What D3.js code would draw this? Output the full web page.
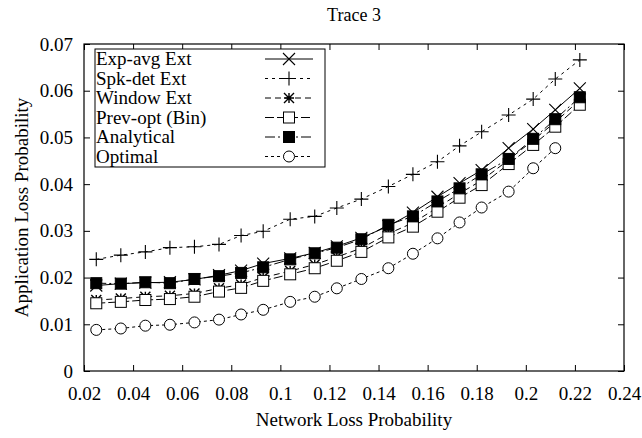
<!DOCTYPE html>
<html><head><meta charset="utf-8">
<script src="https://cdn.jsdelivr.net/npm/d3@7"></script>
<style>body{margin:0;background:#fff}svg{display:block}</style>
</head><body>
<script>
const xs = [0.025,0.035,0.045,0.055,0.065,0.075,0.084,0.093,0.104,0.114,0.123,0.133,0.144,0.154,0.164,0.173,0.182,0.193,0.203,0.212,0.222];
const expAvg = [0.0183,0.0187,0.0189,0.0190,0.0196,0.0205,0.0215,0.0230,0.0241,0.0253,0.0267,0.0285,0.0310,0.0339,0.0373,0.0402,0.0430,0.0477,0.0518,0.0559,0.0605];
const spkDet = [0.0239,0.0248,0.0255,0.0264,0.0266,0.0271,0.0290,0.0299,0.0325,0.0331,0.0349,0.0368,0.0395,0.0421,0.0448,0.0482,0.0512,0.0548,0.0582,0.0625,0.0666];
const windowExt = [0.0152,0.0155,0.0159,0.0161,0.0166,0.0177,0.0185,0.0200,0.0214,0.0228,0.0244,0.0263,0.0294,0.0317,0.0350,0.0380,0.0408,0.0452,0.0494,0.0533,0.0580];
const prevOpt = [0.0145,0.0148,0.0152,0.0154,0.0159,0.0170,0.0178,0.0193,0.0207,0.0220,0.0236,0.0255,0.0286,0.0309,0.0341,0.0371,0.0398,0.0443,0.0484,0.0523,0.0570];
const analytical = [0.0188,0.0187,0.0190,0.0188,0.0197,0.0203,0.0210,0.0222,0.0239,0.0252,0.0264,0.0282,0.0313,0.0331,0.0363,0.0391,0.0421,0.0454,0.0497,0.0539,0.0586];
const optimal = [0.0088,0.0091,0.0097,0.0099,0.0104,0.0110,0.0121,0.0131,0.0148,0.0159,0.0177,0.0197,0.0220,0.0251,0.0284,0.0318,0.0350,0.0384,0.0434,0.0477];
const xTicks = [0.02,0.04,0.06,0.08,0.1,0.12,0.14,0.16,0.18,0.2,0.22,0.24];
const yTicks = [0,0.01,0.02,0.03,0.04,0.05,0.06,0.07];
const seriesNames = ["Exp-avg Ext","Spk-det Ext","Window Ext","Prev-opt (Bin)","Analytical","Optimal"];
const seriesData = [expAvg, spkDet, windowExt, prevOpt, analytical, optimal];
const seriesMarkers = ["cross","plus","star","squareOpen","squareFilled","circle"];
const seriesDash = [null,"3,4","6,4","9,3","10,3,2,3","3,3"];

const W=642,H=438, L=84,R=624,T=44,B=371;
const FS=19;
const svg=d3.select("body").append("svg").attr("width",W).attr("height",H);
const x=d3.scaleLinear().domain([0.02,0.24]).range([L,R]);
const y=d3.scaleLinear().domain([0,0.07]).range([B,T]);
const font="'Liberation Serif','Times New Roman',serif";

svg.append("rect").attr("x",L).attr("y",T).attr("width",R-L).attr("height",B-T)
  .attr("fill","none").attr("stroke","#000").attr("stroke-width",1.2);

const fmt=d=>d===0?"0":String(+d.toFixed(2));
const ax=svg.append("g").attr("transform",`translate(0,${B})`)
  .call(d3.axisBottom(x).tickValues(xTicks).tickFormat(fmt).tickSize(-6).tickPadding(16));
const axTop=svg.append("g").attr("transform",`translate(0,${T})`)
  .call(d3.axisTop(x).tickValues(xTicks).tickFormat("").tickSize(-6));
const ay=svg.append("g").attr("transform",`translate(${L},0)`)
  .call(d3.axisLeft(y).tickValues(yTicks).tickFormat(fmt).tickSize(-6).tickPadding(11));
const ayR=svg.append("g").attr("transform",`translate(${R},0)`)
  .call(d3.axisRight(y).tickValues(yTicks).tickFormat("").tickSize(-6));
[ax,axTop,ay,ayR].forEach(g=>{
  g.select(".domain").remove();
  g.selectAll("line").attr("stroke","#000");
  g.selectAll("text").attr("font-family",font).attr("font-size",FS).attr("fill","#000");
});

svg.append("text").attr("x",(L+R)/2).attr("y",21).attr("text-anchor","middle")
  .attr("font-family",font).attr("font-size",18).text("Trace 3");
svg.append("text").attr("x",(L+R)/2).attr("y",426).attr("text-anchor","middle")
  .attr("font-family",font).attr("font-size",FS).text("Network Loss Probability");
svg.append("text").attr("transform",`translate(28,${(T+B)/2}) rotate(-90)`).attr("text-anchor","middle")
  .attr("font-family",font).attr("font-size",FS).text("Application Loss Probability");

function marker(g,type,cx,cy){
  const s=6;
  if(type==="cross"){
    g.append("path").attr("d",`M${cx-s},${cy-s}L${cx+s},${cy+s}M${cx-s},${cy+s}L${cx+s},${cy-s}`).attr("stroke","#000").attr("stroke-width",1.1);
  } else if(type==="plus"){
    g.append("path").attr("d",`M${cx-s-1},${cy}L${cx+s+1},${cy}M${cx},${cy-s-1}L${cx},${cy+s+1}`).attr("stroke","#000").attr("stroke-width",1.1);
  } else if(type==="star"){
    const t=5;
    g.append("path").attr("d",`M${cx-t},${cy}L${cx+t},${cy}M${cx},${cy-t}L${cx},${cy+t}M${cx-t},${cy-t}L${cx+t},${cy+t}M${cx-t},${cy+t}L${cx+t},${cy-t}`).attr("stroke","#000").attr("stroke-width",1.4);
  } else if(type==="squareOpen"||type==="squareFilled"){
    g.append("rect").attr("x",cx-5.5).attr("y",cy-5.5).attr("width",11).attr("height",11)
      .attr("fill",type==="squareFilled"?"#000":"#fff").attr("stroke","#000").attr("stroke-width",1);
  } else if(type==="circle"){
    g.append("circle").attr("cx",cx).attr("cy",cy).attr("r",5.5).attr("fill","#fff").attr("stroke","#000").attr("stroke-width",1);
  }
}

const line=d3.line().x(d=>x(d[0])).y(d=>y(d[1]));
seriesData.forEach((vals,i)=>{
  const pts=vals.map((v,j)=>[xs[j],v]);
  const g=svg.append("g");
  g.append("path").datum(pts).attr("d",line).attr("fill","none").attr("stroke","#000")
    .attr("stroke-width",1).attr("stroke-dasharray",seriesDash[i]);
  pts.forEach(p=>marker(g,seriesMarkers[i],x(p[0]),y(p[1])));
});

const lg=svg.append("g");
lg.append("rect").attr("x",95).attr("y",49).attr("width",230).attr("height",118)
  .attr("fill","#fff").attr("stroke","#000").attr("stroke-width",1);
seriesNames.forEach((n,i)=>{
  const yy=59+i*19.5;
  lg.append("text").attr("x",96).attr("y",yy+6).attr("font-family",font).attr("font-size",FS).text(n);
  lg.append("path").attr("d",`M265,${yy}L313,${yy}`).attr("stroke","#000").attr("stroke-width",1)
    .attr("stroke-dasharray",seriesDash[i]);
  marker(lg,seriesMarkers[i],289,yy);
});
</script>
</body></html>
